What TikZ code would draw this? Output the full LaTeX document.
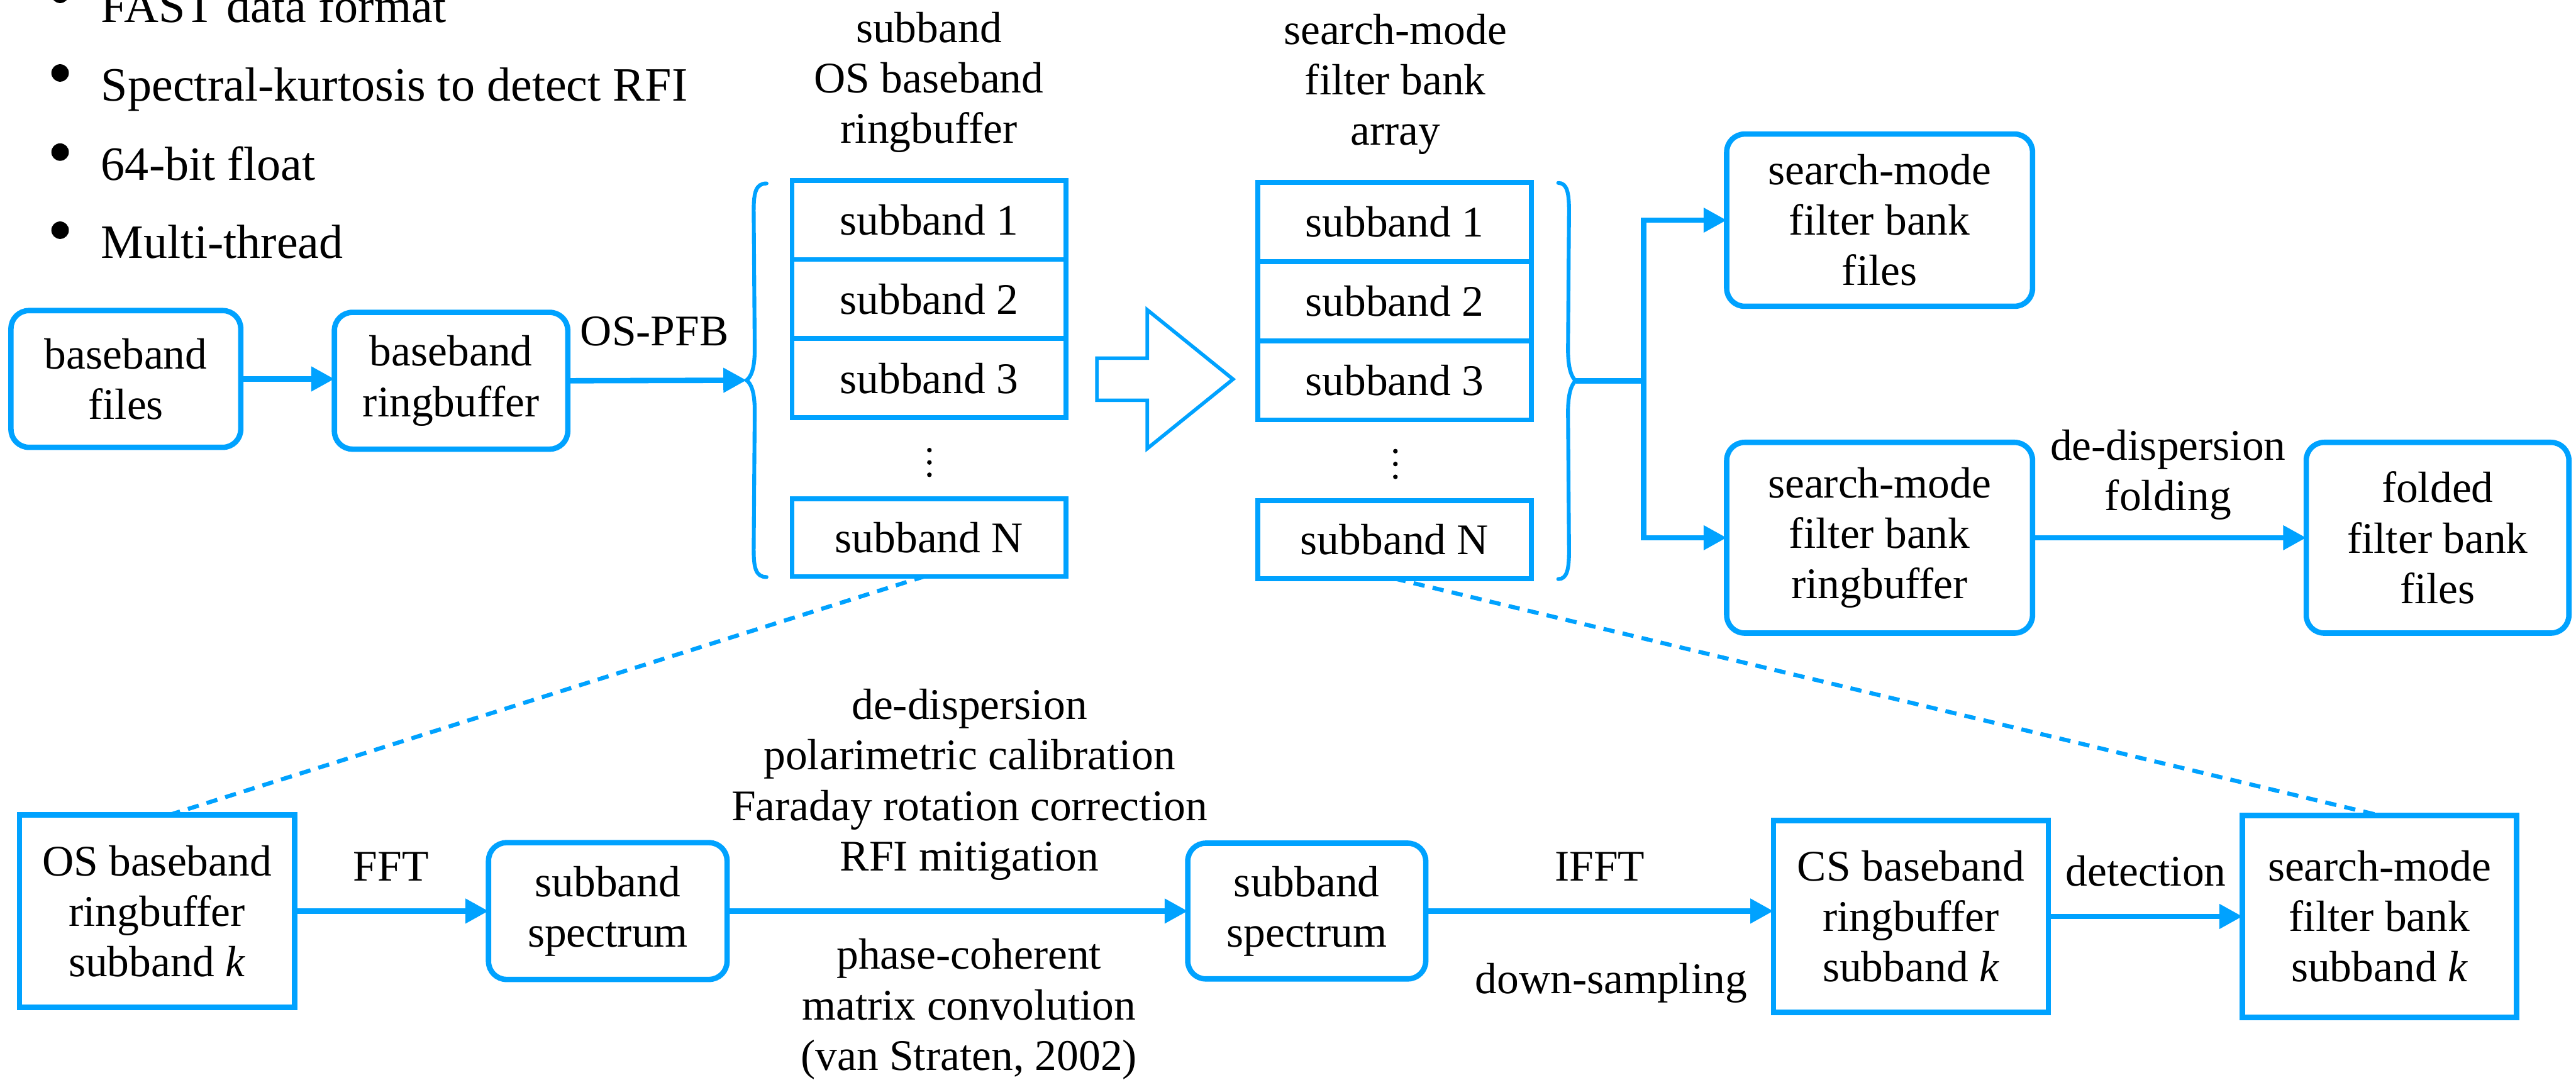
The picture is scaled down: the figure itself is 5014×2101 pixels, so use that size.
\documentclass[tikz,border=0pt]{standalone}
\usepackage{fontspec}
\setmainfont{Liberation Serif}
\usetikzlibrary{arrows.meta,calc}
\definecolor{fblue}{RGB}{0,162,255}
\begin{document}
\begin{tikzpicture}[x=0.01cm,y=-0.01cm,
  every node/.style={inner sep=0pt, outer sep=0pt},
  txt/.style={font=\fontsize{24.2}{27.9}\selectfont, align=center},
  rbox/.style={txt, draw=fblue, line width=0.105cm, rounded corners=0.35cm},
  sbox/.style={txt, draw=fblue, line width=0.105cm},
  cell/.style={txt, draw=fblue, line width=0.095cm, minimum width=5.33cm, minimum height=1.54cm},
  conn/.style={draw=fblue, line width=0.105cm, -{Triangle[length=0.45cm,width=0.46cm]}},
  dashconn/.style={draw=fblue, line width=0.08cm, dash pattern=on 0.22cm off 0.16cm},
  bracepath/.style={draw=fblue, line width=0.075cm, line cap=round},
  bul/.style={font=\fontsize{26.5}{30}\selectfont, anchor=base west},
  dotmark/.style={fill=black}
]
\useasboundingbox (0,0) rectangle (5014,2101);

% bullet list
\node[bul] (t1) at (197,44) {FAST data format};
\node[bul] (t2) at (197,197) {Spectral-kurtosis to detect RFI};
\node[bul] (t3) at (197,351) {64-bit float};
\node[bul] (t4) at (197,503) {Multi-thread};
\fill[dotmark] (117,-11) circle[radius=0.17cm];
\fill[dotmark] (117,142) circle[radius=0.17cm];
\fill[dotmark] (117,296) circle[radius=0.17cm];
\fill[dotmark] (117,448) circle[radius=0.17cm];

% top row
\node[rbox, minimum width=4.47cm, minimum height=2.66cm] (bbf) at (245,737.5) {baseband\\files};
\node[rbox, minimum width=4.54cm, minimum height=2.66cm] (bbr) at (878,741) {baseband\\ringbuffer};
\draw[conn] (bbf.east) -- (bbf.east -| bbr.west);

% left brace
\coordinate (lbtip) at (1453,740);
\draw[bracepath] (1492,357) .. controls (1471,357) and (1467,375) .. (1467,410)
  -- (1469,680) .. controls (1469,720) and (1461,734) .. (lbtip)
  .. controls (1461,746) and (1469,760) .. (1469,800)
  -- (1467,1070) .. controls (1467,1105) and (1471,1123) .. (1492,1123);
\draw[conn] (bbr.east) -- (lbtip);
\node[txt, anchor=base] (ospfb) at (1274,673) {OS-PFB};

% column 1
\node[txt] (lab1) at (1808,160) {subband\\OS baseband\\ringbuffer};
\node[cell] (a1) at (1808.5,428) {subband 1};
\node[cell] (a2) at (1808.5,582) {subband 2};
\node[cell] (a3) at (1808.5,736) {subband 3};
\node[cell, minimum height=1.51cm] (aN) at (1808.5,1046.5) {subband N};
\fill[dotmark] (1809,876) circle[radius=0.045cm];
\fill[dotmark] (1809,900) circle[radius=0.045cm];
\fill[dotmark] (1809,924) circle[radius=0.045cm];

% hollow arrow
\draw[fblue, line width=0.07cm, line join=miter] (2135,697) -- (2233,697) -- (2233,603) -- (2400,738) -- (2233,873) -- (2233,779) -- (2135,779) -- cycle;

% column 2
\node[txt] (lab2) at (2716,164) {search-mode\\filter bank\\array};
\node[cell] (b1) at (2714.5,432) {subband 1};
\node[cell] (b2) at (2714.5,586) {subband 2};
\node[cell] (b3) at (2714.5,740) {subband 3};
\node[cell, minimum height=1.52cm] (bN) at (2714.5,1050) {subband N};
\fill[dotmark] (2716,878) circle[radius=0.045cm];
\fill[dotmark] (2716,903) circle[radius=0.045cm];
\fill[dotmark] (2716,928) circle[radius=0.045cm];

% right brace
\coordinate (rbtip) at (3067,741);
\draw[bracepath] (3033,356) .. controls (3050,356) and (3054,375) .. (3054,410)
  -- (3052,680) .. controls (3052,720) and (3060,735) .. (rbtip)
  .. controls (3060,747) and (3052,762) .. (3052,802)
  -- (3054,1072) .. controls (3054,1108) and (3050,1127) .. (3033,1127);

% right boxes
\node[rbox, minimum width=5.95cm, minimum height=3.35cm] (sfb) at (3658.5,428.5) {search-mode\\filter bank\\files};
\node[rbox, minimum width=5.95cm, minimum height=3.71cm] (sfr) at (3658.5,1046.5) {search-mode\\filter bank\\ringbuffer};
\node[rbox, minimum width=5.11cm, minimum height=3.71cm] (fold) at (4744.5,1046.5) {folded\\filter bank\\files};
\coordinate (fork) at (3199,741);
\draw[draw=fblue, line width=0.105cm] (rbtip) -- (fork);
\draw[conn] (fork) |- (sfb.west);
\draw[conn] (fork) |- (sfr.west);
\draw[conn] (sfr.east) -- (fold.west);
\node[txt] (ddf) at (4220,924) {de-dispersion\\folding};

% bottom row
\node[sbox, minimum width=5.35cm, minimum height=3.74cm] (osk) at (305.5,1773) {OS baseband\\ringbuffer\\subband \textit{k}};
\node[rbox, minimum width=4.64cm, minimum height=2.66cm] (ss1) at (1183,1773) {subband\\spectrum};
\node[rbox, minimum width=4.63cm, minimum height=2.64cm] (ss2) at (2543.5,1773) {subband\\spectrum};
\node[sbox, minimum width=5.35cm, minimum height=3.73cm] (csk) at (3719.5,1783.5) {CS baseband\\ringbuffer\\subband \textit{k}};
\node[sbox, minimum width=5.33cm, minimum height=3.93cm] (smk) at (4631.5,1783.5) {search-mode\\filter bank\\subband \textit{k}};

\draw[conn] (osk.east) -- (ss1.west);
\draw[conn] (ss1.east) -- (ss2.west);
\draw[conn] (ss2.east) -- (ss2.east -| csk.west);
\draw[conn] (csk.east) -- (smk.west);

\node[txt, anchor=base] (fft) at (761,1714) {FFT};
\node[txt] (proc) at (1887,1527) {de-dispersion\\polarimetric calibration\\Faraday rotation correction\\RFI mitigation};
\node[txt] (pcmc) at (1886,1964) {phase-coherent\\matrix convolution\\(van Straten, 2002)};
\node[txt, anchor=base] (ifft) at (3114,1714) {IFFT};
\node[txt, anchor=base] (down) at (3136,1933) {down-sampling};
\node[txt, anchor=base] (det) at (4177,1724) {detection};

% dashed zoom lines
\draw[dashconn] ($(osk.north)+(24,0)$) -- ($(aN.south)+(-10,0)$);
\draw[dashconn] (bN.south) -- (smk.north);
\end{tikzpicture}
\end{document}
